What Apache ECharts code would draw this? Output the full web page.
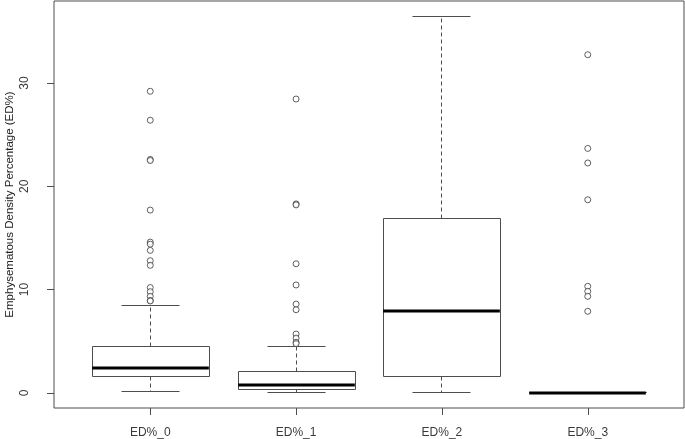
<!DOCTYPE html>
<html>
<head>
<meta charset="utf-8">
<script src="https://cdn.jsdelivr.net/npm/echarts@6/dist/echarts.min.js"></script>
<style>html,body{margin:0;padding:0;background:#fff;}#c{width:685px;height:439px;}</style>
</head>
<body>
<div id="c"></div>
<script>
var categories = ['ED%_0', 'ED%_1', 'ED%_2', 'ED%_3'];
var whiskerLow = [0.15, 0.06, 0.06, 0];
var q1 = [1.55, 0.39, 1.55, 0];
var median = [2.45, 0.77, 7.9, 0];
var q3 = [4.45, 2.1, 16.87, 0];
var whiskerHigh = [8.48, 4.45, 36.48, 0];
var outliers0 = [29.2, 26.4, 22.6, 22.5, 17.7, 14.6, 14.4, 13.8, 12.8, 12.35, 10.2, 9.8, 9.35, 8.95, 8.9];
var outliers1 = [28.45, 18.3, 18.2, 12.5, 10.45, 8.6, 8.05, 5.7, 5.3, 4.9, 4.77];
var outliers2 = [];
var outliers3 = [32.74, 23.67, 22.26, 18.7, 10.32, 9.83, 9.35, 7.9];
var yTicks = [0, 10, 20, 30];
var yTitle = 'Emphysematous Density Percentage (ED%)';

var outlierGroups = [outliers0, outliers1, outliers2, outliers3];
var boxData = categories.map(function (c, i) {
  return [i + 1, whiskerLow[i], q1[i], median[i], q3[i], whiskerHigh[i]];
});
var outlierData = [];
outlierGroups.forEach(function (g, i) {
  g.forEach(function (v) { outlierData.push([i + 1, v]); });
});

var LINE = '#4d4d4d';
var TEXT = '#3a3a3a';
function h(v) { return Math.round(v - 0.5) + 0.5; }

function renderBox(params, api) {
  var x = api.value(0);
  var lo = api.coord([x, api.value(1)]);
  var b1 = api.coord([x, api.value(2)]);
  var md = api.coord([x, api.value(3)]);
  var b3 = api.coord([x, api.value(4)]);
  var hi = api.coord([x, api.value(5)]);
  var bw = api.size([0.8, 0])[0];
  var sw = api.size([0.4, 0])[0];
  var cx = h(lo[0]);
  var children = [];
  var dash = { stroke: LINE, lineWidth: 1, lineDash: [4, 3] };
  var solid = { stroke: LINE, lineWidth: 1 };
  children.push({ type: 'line', shape: { x1: cx, y1: h(b3[1]), x2: cx, y2: h(hi[1]) }, style: dash });
  children.push({ type: 'line', shape: { x1: cx, y1: h(b1[1]), x2: cx, y2: h(lo[1]) }, style: dash });
  children.push({ type: 'line', shape: { x1: h(cx - sw / 2), y1: h(hi[1]), x2: h(cx + sw / 2), y2: h(hi[1]) }, style: solid });
  children.push({ type: 'line', shape: { x1: h(cx - sw / 2), y1: h(lo[1]), x2: h(cx + sw / 2), y2: h(lo[1]) }, style: solid });
  children.push({ type: 'rect', shape: { x: h(cx - bw / 2), y: h(b3[1]), width: Math.round(bw), height: Math.round(b1[1] - b3[1]) }, style: { fill: '#fff', stroke: LINE, lineWidth: 1 } });
  children.push({ type: 'line', shape: { x1: cx - bw / 2, y1: Math.round(md[1]), x2: cx + bw / 2, y2: Math.round(md[1]) }, style: { stroke: '#000', lineWidth: 3 } });
  return { type: 'group', children: children };
}

var chart = echarts.init(document.getElementById('c'), null, { renderer: 'canvas' });
chart.setOption({
  animation: false,
  backgroundColor: '#fff',
  textStyle: { fontFamily: 'Liberation Sans, Arial, sans-serif' },
  grid: { left: 54, right: 1, top: 1, bottom: 31, containLabel: false, outerBoundsMode: 'none',
    show: true, borderColor: LINE, borderWidth: 1, backgroundColor: 'transparent' },
  xAxis: {
    type: 'value', min: 0.34, max: 4.66,
    splitLine: { show: false },
    axisLine: { show: false, onZero: false },
    axisTick: { show: true, length: 7, lineStyle: { color: LINE }, customValues: [1, 2, 3, 4] },
    axisLabel: {
      customValues: [1, 2, 3, 4], margin: 19, fontSize: 12, color: TEXT,
      formatter: function (v) { return categories[Math.round(v) - 1] || ''; }
    }
  },
  yAxis: {
    type: 'value', min: -1.46, max: 37.94,
    splitLine: { show: false },
    axisLine: { show: false, onZero: false },
    axisTick: { show: true, length: 7, lineStyle: { color: LINE }, customValues: yTicks },
    axisLabel: { customValues: yTicks, rotate: 90, margin: 23, fontSize: 12, color: TEXT },
    name: yTitle, nameLocation: 'middle', nameGap: 38, nameRotate: 90, nameMoveOverlap: false,
    nameTextStyle: { fontSize: 11.5, color: '#222' }
  },
  series: [
    { type: 'custom', renderItem: renderBox, data: boxData, encode: { x: 0, y: [1, 2, 3, 4, 5] }, z: 2 },
    { type: 'scatter', data: outlierData, symbol: 'circle', symbolSize: 6,
      itemStyle: { color: '#fff', borderColor: '#3a3a3a', borderWidth: 1 }, z: 3 }
  ]
});
</script>
</body>
</html>
